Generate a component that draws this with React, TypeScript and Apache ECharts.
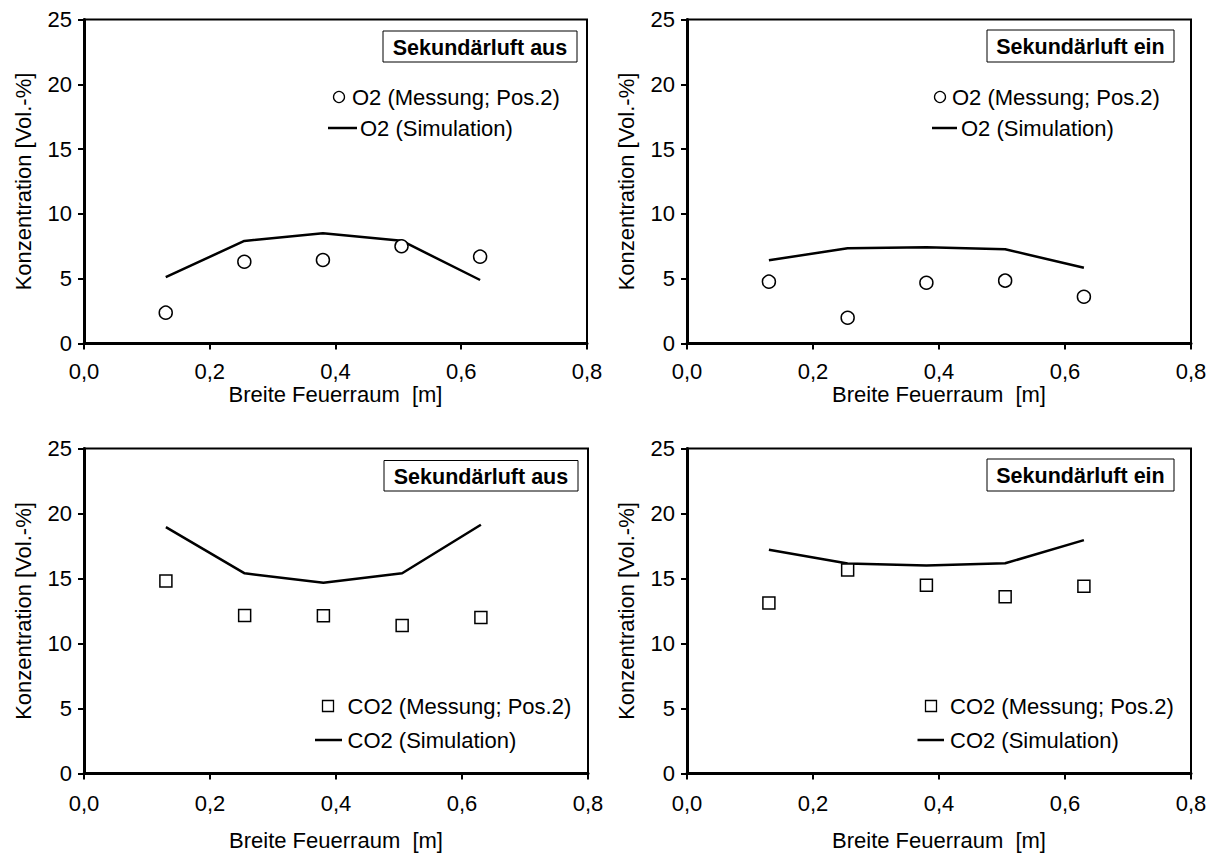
import React, { useEffect, useRef } from "react";
import * as echarts from "echarts";

const xPositions = [0.13, 0.255, 0.38, 0.505, 0.63];
const o2MessAus = [2.38, 6.31, 6.44, 7.5, 6.7];
const o2SimAus = [5.13, 7.91, 8.5, 7.93, 4.9];
const o2MessEin = [4.77, 1.99, 4.69, 4.85, 3.61];
const o2SimEin = [6.42, 7.35, 7.42, 7.27, 5.85];
const co2MessAus = [14.81, 12.16, 12.14, 11.39, 12.0];
const co2SimAus = [18.95, 15.4, 14.68, 15.4, 19.13];
const co2MessEin = [13.12, 15.66, 14.48, 13.6, 14.4];
const co2SimEin = [17.21, 16.15, 16.0, 16.17, 17.95];
const xTicks = [0, 0.2, 0.4, 0.6, 0.8];
const yTicks = [0, 5, 10, 15, 20, 25];

const FONT = "Liberation Sans, Arial, sans-serif";
const FS = 22;

const pair = (ys: number[]) => xPositions.map((x, i) => [x, ys[i]]);

export default function App() {
  const ref = useRef<HTMLDivElement>(null);
  useEffect(() => {
    if (!ref.current) return;
    const chart = echarts.init(ref.current, null, { renderer: "svg" });
    const grids = [
      { left: 84, top: 19.5, width: 503, height: 324 },
      { left: 687, top: 19.5, width: 504, height: 324 },
      { left: 84, top: 448.5, width: 504, height: 325 },
      { left: 687, top: 448.5, width: 504, height: 325 },
    ];
    const xLabelMargin = [17, 17, 19, 19];
    const xNameGap = [39, 39, 56, 56];
    const xAxis = grids.map((_, i) => ({
      type: "value",
      gridIndex: i,
      min: xTicks[0],
      max: xTicks[xTicks.length - 1],
      interval: 0.2,
      name: "Breite Feuerraum  [m]",
      nameLocation: "middle",
      nameGap: xNameGap[i],
      nameTextStyle: { fontFamily: FONT, fontSize: FS, color: "#000" },
      axisLine: { show: true, onZero: false, lineStyle: { color: "#000", width: 3 } },
      axisTick: { show: true, inside: false, length: 6, lineStyle: { color: "#000", width: 2 } },
      axisLabel: {
        margin: xLabelMargin[i],
        fontFamily: FONT,
        fontSize: FS,
        color: "#000",
        formatter: (v: number) => v.toFixed(1).replace(".", ","),
      },
      splitLine: { show: false },
    }));
    const yAxis = grids.map((_, i) => ({
      type: "value",
      gridIndex: i,
      min: yTicks[0],
      max: yTicks[yTicks.length - 1],
      interval: 5,
      name: "Konzentration [Vol.-%]",
      nameLocation: "middle",
      nameGap: 50,
      nameTextStyle: { fontFamily: FONT, fontSize: FS, color: "#000" },
      axisLine: { show: true, onZero: false, lineStyle: { color: "#000", width: 3 } },
      axisTick: { show: true, inside: false, length: 6, lineStyle: { color: "#000", width: 2 } },
      axisLabel: { margin: 12, fontFamily: FONT, fontSize: FS, color: "#000" },
      splitLine: { show: false },
    }));
    const panels = [
      { sim: o2SimAus, mess: o2MessAus, symbol: "circle", size: 13 },
      { sim: o2SimEin, mess: o2MessEin, symbol: "circle", size: 13 },
      { sim: co2SimAus, mess: co2MessAus, symbol: "rect", size: 12 },
      { sim: co2SimEin, mess: co2MessEin, symbol: "rect", size: 12 },
    ];
    const series: any[] = [];
    panels.forEach((p, i) => {
      series.push({
        type: "line",
        xAxisIndex: i,
        yAxisIndex: i,
        data: pair(p.sim),
        showSymbol: false,
        lineStyle: { color: "#000", width: 2.5 },
        z: 2,
      });
      series.push({
        type: "scatter",
        xAxisIndex: i,
        yAxisIndex: i,
        data: pair(p.mess),
        symbol: p.symbol,
        symbolSize: p.size,
        itemStyle: { color: "#fff", borderColor: "#000", borderWidth: 1.5, opacity: 1 },
        z: 3,
      });
    });

    const titleBox = (x: number, y: number, w: number, h: number, text: string) => [
      {
        type: "rect",
        shape: { x, y, width: w, height: h },
        style: { fill: "#fff", stroke: "#000", lineWidth: 1 },
        z: 10,
      },
      {
        type: "text",
        x: x + w / 2,
        y: y + h / 2 + 1,
        style: {
          text,
          font: `bold 21.5px ${FONT}`,
          fill: "#000",
          align: "center",
          verticalAlign: "middle",
        },
        z: 11,
      },
    ];
    const txt = (x: number, y: number, text: string) => ({
      type: "text",
      x,
      y,
      style: { text, font: `${FS}px ${FONT}`, fill: "#000", align: "left", verticalAlign: "middle" },
      z: 11,
    });
    const lineSym = (x1: number, x2: number, y: number) => ({
      type: "line",
      shape: { x1, y1: y, x2, y2: y },
      style: { stroke: "#000", lineWidth: 2.5 },
      z: 11,
    });
    const circ = (cx: number, cy: number) => ({
      type: "circle",
      shape: { cx, cy, r: 5.5 },
      style: { fill: "#fff", stroke: "#000", lineWidth: 1.3 },
      z: 11,
    });
    const sq = (cx: number, cy: number) => ({
      type: "rect",
      shape: { x: cx - 5.5, y: cy - 5.5, width: 11, height: 11 },
      style: { fill: "#fff", stroke: "#000", lineWidth: 1.3 },
      z: 11,
    });

    const graphic: any[] = [
      ...titleBox(383, 31, 194, 31, "Sekundärluft aus"),
      circ(339, 97),
      txt(352, 97, "O2 (Messung; Pos.2)"),
      lineSym(328, 357, 128),
      txt(360, 128, "O2 (Simulation)"),

      ...titleBox(987, 30, 187, 32, "Sekundärluft ein"),
      circ(940, 97),
      txt(952, 97, "O2 (Messung; Pos.2)"),
      lineSym(932, 957, 128),
      txt(961, 128, "O2 (Simulation)"),

      ...titleBox(384, 460.5, 194, 30.5, "Sekundärluft aus"),
      sq(328, 706),
      txt(347.5, 706, "CO2 (Messung; Pos.2)"),
      lineSym(315, 342, 740),
      txt(347.5, 740, "CO2 (Simulation)"),

      ...titleBox(987, 459, 187, 32, "Sekundärluft ein"),
      sq(931, 706),
      txt(950, 706, "CO2 (Messung; Pos.2)"),
      lineSym(917.5, 944, 740),
      txt(950, 740, "CO2 (Simulation)"),
    ];

    chart.setOption({
      animation: false,
      backgroundColor: "#fff",
      textStyle: { fontFamily: FONT },
      grid: grids.map((g) => ({
        ...g,
        show: true,
        borderColor: "#000",
        borderWidth: 2,
        backgroundColor: "transparent",
        containLabel: false,
      })),
      xAxis,
      yAxis,
      series,
      graphic,
    });
    return () => chart.dispose();
  }, []);
  return (
    <div
      ref={ref}
      style={{ position: "absolute", left: 0, top: 0, width: 1216, height: 854, background: "#fff" }}
    />
  );
}
